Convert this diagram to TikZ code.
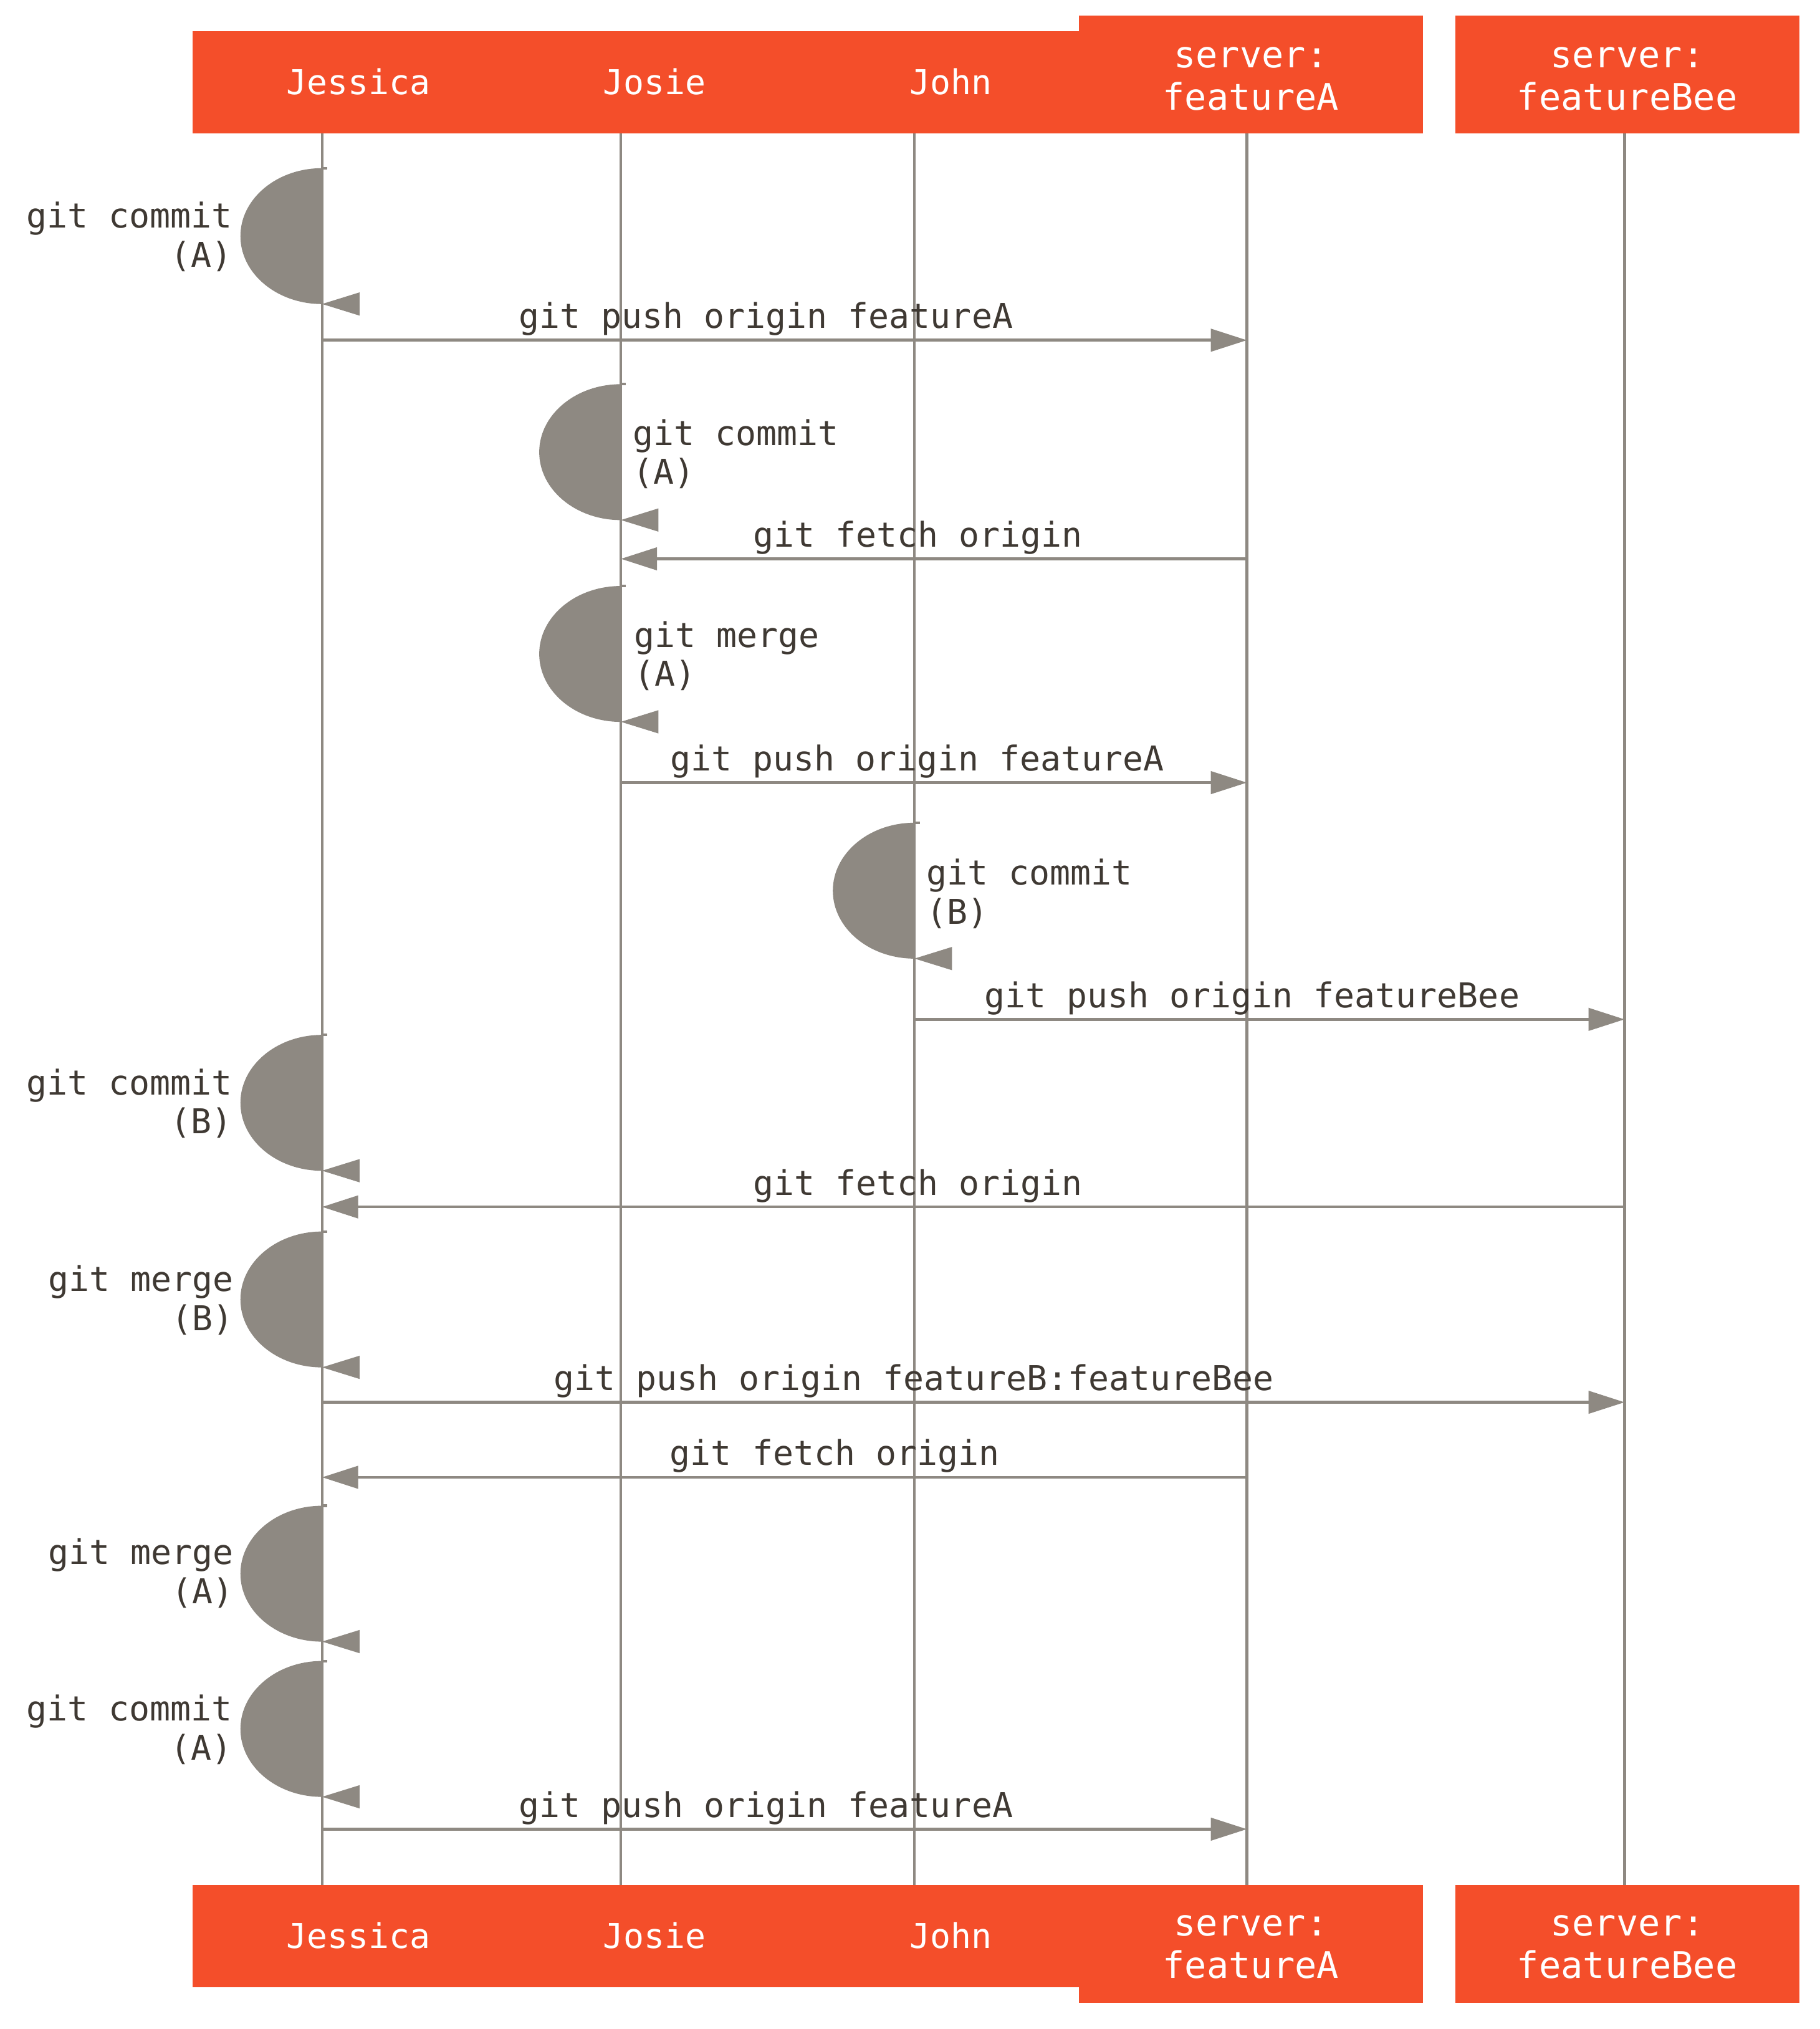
\documentclass[tikz,border=0pt]{standalone}
\usepackage{fontspec}
\newfontfamily\gitmono{DejaVu Sans Mono}
\usetikzlibrary{arrows.meta}
\definecolor{gitorange}{HTML}{F44E2A}
\definecolor{gitgray}{HTML}{8E8982}
\definecolor{gittext}{HTML}{3F3933}

\begin{document}
\begin{tikzpicture}[x=0.020753cm, y=-0.020753cm,
  every node/.style={font=\gitmono\fontsize{15.6}{17.8}\selectfont, text=gittext, inner sep=0pt},
  head/.style={text=white, align=center, font=\gitmono\fontsize{15.6}{18.9}\selectfont},
  serverhead/.style={head, font=\gitmono\fontsize{16.7}{19.2}\selectfont},
  life/.style={gitgray, line width=1.2pt},
  msg/.style={gitgray, line width=1.3pt, -{Triangle[length=0.58cm, width=0.36cm]}},
  msglabel/.style={anchor=base, yshift=0.19cm},
  leftnote/.style={align=right, anchor=east},
  rightnote/.style={align=left, anchor=west}]
\useasboundingbox (0,0) rectangle (1407,1568.5);

% header boxes, top and bottom
\fill[gitorange] (149,24) rectangle (834,103);
\fill[gitorange] (834,12) rectangle (1100,103);
\fill[gitorange] (1125,12) rectangle (1391,103);
\fill[gitorange] (149,1457) rectangle (834,1536);
\fill[gitorange] (834,1457) rectangle (1100,1548);
\fill[gitorange] (1125,1457) rectangle (1391,1548);

\node[head] (tjes) at (277,63) {Jessica};
\node[head] (tjos) at (506,63) {Josie};
\node[head] (tjoh) at (735,63) {John};
\node[serverhead] (tfa) at (967,61) {server:\\featureA};
\node[serverhead] (tfb) at (1258,61) {server:\\featureBee};

\node[head] (bjes) at (277,1496) {Jessica};
\node[head] (bjos) at (506,1496) {Josie};
\node[head] (bjoh) at (735,1496) {John};
\node[serverhead] (bfa) at (967,1505) {server:\\featureA};
\node[serverhead] (bfb) at (1258,1505) {server:\\featureBee};

% lifelines
\foreach \who/\xpos in {jes/249, jos/480, joh/707, fa/964, fb/1256} {
    \coordinate (\who) at (\xpos,103);
    \coordinate (\who-end) at (\xpos,1457);
    \draw[life] (\who) -- (\who-end);
}

% self messages
\foreach \who/\ytop in {jes/130, jos/297, jos/453, joh/636, jes/800, jes/952, jes/1164, jes/1284} {
    \fill[gitgray] (\who |- 0,\ytop) arc[start angle=90, end angle=270, x radius=1.31cm, y radius=1.09cm] -- cycle;
    \fill[gitgray] (\who |- 0,\ytop) ++(0,105) -- ++(29,-9) -- ++(0,18) -- cycle;
    \draw[life] (\who |- 0,\ytop) -- ++(4,0);
}

\node[leftnote] (n1) at (180,183) {git commit\\(A)};
\node[rightnote] (n2) at (489,351) {git commit\\(A)};
\node[rightnote] (n3) at (490,507) {git merge\\(A)};
\node[rightnote] (n4) at (716,691) {git commit\\(B)};
\node[leftnote] (n5) at (180,853) {git commit\\(B)};
\node[leftnote] (n6) at (181,1005) {git merge\\(B)};
\node[leftnote] (n7) at (181,1216) {git merge\\(A)};
\node[leftnote] (n8) at (180,1337) {git commit\\(A)};

% messages between lifelines
\draw[msg] (jes |- 0,263) -- node[msglabel, pos=0.48] {git push origin featureA} (fa |- 0,263);
\draw[msg] (fa |- 0,432) -- node[msglabel, pos=0.526] {git fetch origin} (jos |- 0,432);
\draw[msg] (jos |- 0,605) -- node[msglabel, pos=0.473] {git push origin featureA} (fa |- 0,605);
\draw[msg] (joh |- 0,788) -- node[msglabel, pos=0.4755] {git push origin featureBee} (fb |- 0,788);
\draw[msg] (fb |- 0,933) -- node[msglabel, pos=0.5426] {git fetch origin} (jes |- 0,933);
\draw[msg] (jes |- 0,1084) -- node[msglabel, pos=0.4543] {git push origin featureB:featureBee} (fb |- 0,1084);
\draw[msg] (fa |- 0,1142) -- node[msglabel, pos=0.4458] {git fetch origin} (jes |- 0,1142);
\draw[msg] (jes |- 0,1414) -- node[msglabel, pos=0.48] {git push origin featureA} (fa |- 0,1414);
\end{tikzpicture}
\end{document}
